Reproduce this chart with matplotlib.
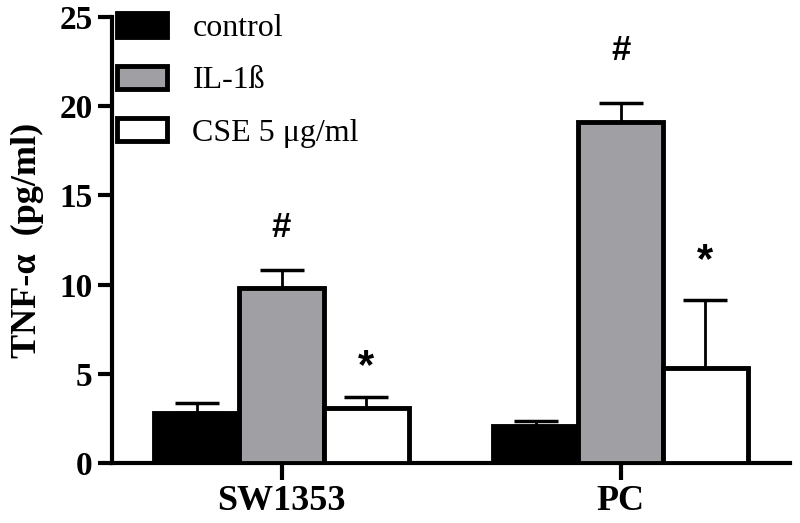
import matplotlib
matplotlib.use("Agg")
import matplotlib.pyplot as plt
import numpy as np
from matplotlib.patches import Patch

groups = ["SW1353", "PC"]
series = ["control", "IL-1ß", "CSE 5 μg/ml"]
values = {
    "control": [2.8, 2.1],
    "IL-1ß": [9.8, 19.1],
    "CSE 5 μg/ml": [3.1, 5.35],
}
errors = {
    "control": [0.56, 0.25],
    "IL-1ß": [1.0, 1.1],
    "CSE 5 μg/ml": [0.6, 3.8],
}
marks = {
    "IL-1ß": ["#", "#"],
    "CSE 5 μg/ml": ["*", "*"],
}
mark_y = {
    "IL-1ß": [13.2, 23.1],
    "CSE 5 μg/ml": [5.4, 11.3],
}
colors = {"control": "#000000", "IL-1ß": "#a0a0a4", "CSE 5 μg/ml": "#ffffff"}

plt.rcParams['font.family'] = ['Liberation Serif', 'DejaVu Serif']

fig = plt.figure(figsize=(8, 5.23), dpi=100)
ax = fig.add_axes([0.14, 0.1147, 0.8475, 0.8528])

x = np.arange(len(groups))
w = 0.25
offsets = [-w, 0, w]
for s, off in zip(series, offsets):
    xs = x + off
    ax.bar(xs, values[s], width=w, color=colors[s], edgecolor='black',
           linewidth=3.5, zorder=3)
    ax.errorbar(xs, values[s], yerr=[np.zeros(len(groups)), errors[s]],
                fmt='none', ecolor='black', elinewidth=2, capsize=16,
                capthick=2.5, zorder=2)
    if s in marks:
        for xi, m, my in zip(xs, marks[s], mark_y[s]):
            ax.text(xi, my, m, ha='center', va='center',
                    fontsize=30 if m == '*' else 25,
                    fontweight='bold', family=['Liberation Sans'])

ax.set_xlim(-0.5, 1.5)
ax.set_ylim(0, 25)
ax.set_yticks([0, 5, 10, 15, 20, 25])
ax.set_xticks(x)
ax.set_xticklabels(groups, fontsize=26, fontweight='bold')
for lab in ax.get_yticklabels():
    lab.set_fontsize(24)
    lab.set_fontweight('bold')
ax.tick_params(axis='y', length=10, width=3, pad=4)
ax.tick_params(axis='x', length=12, width=3, pad=4)
ax.spines['top'].set_visible(False)
ax.spines['right'].set_visible(False)
ax.spines['left'].set_linewidth(3)
ax.spines['bottom'].set_linewidth(3)
ax.set_ylabel("TNF-α  (pg/ml)", fontsize=26, fontweight='bold', labelpad=11)

handles = [Patch(facecolor=colors[s], edgecolor='black', linewidth=3.5) for s in series]
leg = ax.legend(handles, series, loc='upper left', bbox_to_anchor=(0.008, 1.008),
                frameon=False, fontsize=23, handlelength=1.55, handleheight=0.75,
                labelspacing=0.7, handletextpad=0.8, borderaxespad=0.0,
                borderpad=0.0)

fig.savefig("out.png", dpi=100)
